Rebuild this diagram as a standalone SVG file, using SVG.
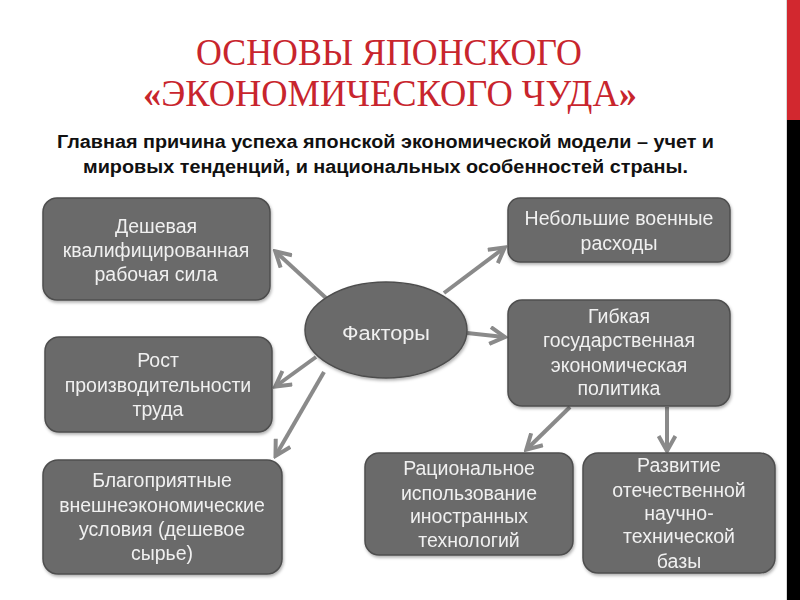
<svg xmlns="http://www.w3.org/2000/svg" width="800" height="600" viewBox="0 0 800 600">
<defs>
<style>
.node{fill:#6a6a6a;stroke:#4e4e4e;stroke-width:1.5}
.lbl{font-family:"Liberation Sans",Arial,sans-serif;font-size:19.5px;fill:#f0f0f0;text-anchor:middle}
.title{font-family:"Liberation Serif","Times New Roman",serif;font-size:38px;fill:#c8252d;text-anchor:middle}
.sub{font-family:"Liberation Sans",Arial,sans-serif;font-size:17.5px;font-weight:bold;fill:#111;text-anchor:middle}
.conn{stroke:#8a8a8a;stroke-width:4;fill:none;marker-end:url(#arr)}
</style>
<marker id="arr" viewBox="0 0 10 10" refX="8" refY="5" markerWidth="5" markerHeight="5" orient="auto" markerUnits="strokeWidth">
<path d="M1,0.8 L8.5,5 L1,9.2" fill="none" stroke="#8a8a8a" stroke-width="2"/>
</marker>
<filter id="sh" x="-10%" y="-10%" width="120%" height="130%">
<feDropShadow dx="1" dy="2" stdDeviation="1.5" flood-color="#000" flood-opacity="0.3"/>
</filter>
</defs>
<rect width="800" height="600" fill="#fff"/>
<rect x="786" y="0" width="1" height="600" fill="#d8d8d8"/>
<rect x="787" y="0" width="13" height="120" fill="#d2282f"/>
<rect x="787" y="120" width="13" height="480" fill="#000"/>

<g id="title">
<text class="title" x="389" y="65" textLength="386" lengthAdjust="spacingAndGlyphs">ОСНОВЫ ЯПОНСКОГО</text>
<text class="title" x="390" y="106" textLength="494" lengthAdjust="spacingAndGlyphs"><tspan font-weight="bold">«</tspan>ЭКОНОМИЧЕСКОГО ЧУДА<tspan font-weight="bold">»</tspan></text>
</g>
<g id="subtitle">
<text class="sub" x="385.5" y="148" textLength="657" lengthAdjust="spacingAndGlyphs">Главная причина успеха японской экономической модели – учет и</text>
<text class="sub" x="385.5" y="173" textLength="605" lengthAdjust="spacingAndGlyphs">мировых тенденций, и национальных особенностей страны.</text>
</g>

<g id="connectors">
<line class="conn" x1="326" y1="298" x2="276" y2="252"/>
<line class="conn" x1="444" y1="293" x2="504" y2="248"/>
<line class="conn" x1="467" y1="333" x2="504" y2="337"/>
<line class="conn" x1="316" y1="357" x2="276" y2="386"/>
<line class="conn" x1="324" y1="372" x2="276" y2="455"/>
<line class="conn" x1="570" y1="407" x2="527" y2="449"/>
<line class="conn" x1="667" y1="407" x2="667" y2="450"/>
</g>

<g id="n-factors" filter="url(#sh)">
<ellipse class="node" cx="386" cy="330" rx="81" ry="48"/>
<text class="lbl" x="386" y="340" font-size="23" textLength="88" lengthAdjust="spacingAndGlyphs">Факторы</text>
</g>
<g id="n-labor" filter="url(#sh)">
<rect class="node" x="43" y="198" width="227" height="102" rx="14"/>
<text class="lbl" x="156" y="233">Дешевая</text>
<text class="lbl" x="156" y="257">квалифицированная</text>
<text class="lbl" x="156" y="281">рабочая сила</text>
</g>
<g id="n-productivity" filter="url(#sh)">
<rect class="node" x="45" y="337" width="227" height="95" rx="14"/>
<text class="lbl" x="158" y="367">Рост</text>
<text class="lbl" x="158" y="392">производительности</text>
<text class="lbl" x="158" y="416">труда</text>
</g>
<g id="n-external" filter="url(#sh)">
<rect class="node" x="43" y="460" width="239" height="114" rx="15"/>
<text class="lbl" x="162" y="487">Благоприятные</text>
<text class="lbl" x="162" y="512">внешнеэкономические</text>
<text class="lbl" x="162" y="536">условия (дешевое</text>
<text class="lbl" x="162" y="560">сырье)</text>
</g>
<g id="n-military" filter="url(#sh)">
<rect class="node" x="508" y="198" width="222" height="64" rx="12"/>
<text class="lbl" x="619" y="225">Небольшие военные</text>
<text class="lbl" x="619" y="250">расходы</text>
</g>
<g id="n-policy" filter="url(#sh)">
<rect class="node" x="508" y="300" width="222" height="106" rx="14"/>
<text class="lbl" x="619" y="323">Гибкая</text>
<text class="lbl" x="619" y="347">государственная</text>
<text class="lbl" x="619" y="372">экономическая</text>
<text class="lbl" x="619" y="395">политика</text>
</g>
<g id="n-foreign" filter="url(#sh)">
<rect class="node" x="365" y="453" width="208" height="102" rx="14"/>
<text class="lbl" x="469" y="475">Рациональное</text>
<text class="lbl" x="469" y="500">использование</text>
<text class="lbl" x="469" y="523">иностранных</text>
<text class="lbl" x="469" y="547">технологий</text>
</g>
<g id="n-science" filter="url(#sh)">
<rect class="node" x="583" y="453" width="192" height="120" rx="15"/>
<text class="lbl" x="679" y="472">Развитие</text>
<text class="lbl" x="679" y="497">отечественной</text>
<text class="lbl" x="679" y="520">научно-</text>
<text class="lbl" x="679" y="543">технической</text>
<text class="lbl" x="679" y="568">базы</text>
</g>
</svg>
